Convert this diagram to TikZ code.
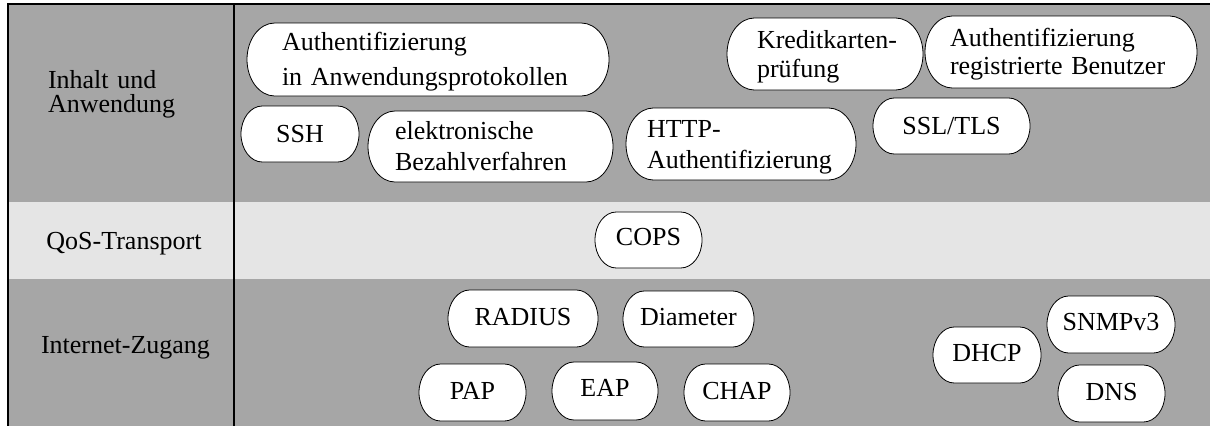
\documentclass[tikz,border=0pt]{standalone}
\usepackage{fontspec}
\setmainfont{Liberation Serif}
\usetikzlibrary{calc,backgrounds}
\definecolor{bandDark}{RGB}{166,166,166}
\definecolor{bandLight}{RGB}{229,229,229}
% stadium outline with elliptic ends around a named node
\newcommand{\capsuleoutline}[1]{%
  \draw[capline] let \p3=($(#1.north)-(#1.south)$) in
    ([xshift={0.38*\y3}]#1.north west) -- ([xshift={-0.38*\y3}]#1.north east)
    arc[start angle=90, end angle=-90, x radius={0.38*\y3}, y radius={0.5*\y3}]
    -- ([xshift={0.38*\y3}]#1.south west)
    arc[start angle=270, end angle=90, x radius={0.38*\y3}, y radius={0.5*\y3}]
    -- cycle;}
\begin{document}
\begin{tikzpicture}[x=1pt,y=-1pt,
  every node/.style={inner sep=0pt, outer sep=0pt},
  frameline/.style={line width=2pt, black},
  capline/.style={draw=black, line width=0.8pt, fill=white},
  rowlabel/.style={font=\fontsize{26}{24}\selectfont, text height=17pt, text depth=0pt},
  capsule/.style={text height=17pt, text depth=4pt, font=\fontsize{26}{26}\selectfont,
    execute at begin node={\hyphenpenalty=10000\exhyphenpenalty=10000}},
  twoline/.style 2 args={text width=#1pt, align=left, text depth=#2pt,
    font=\fontsize{26}{#2}\selectfont},
  size/.style 2 args={minimum width=#1pt, minimum height=#2pt}
]
\useasboundingbox (0,0) rectangle (1210,426);

\begin{pgfonlayer}{background}
  % layer bands
  \fill[bandDark]  (8,4)   rectangle (1210,202);
  \fill[bandLight] (8,202) rectangle (1210,279);
  \fill[bandDark]  (8,279) rectangle (1210,426);
  % frame and column divider
  \draw[frameline] (7,4) -- (1210,4);
  \draw[frameline] (8,3) -- (8,426);
  \draw[frameline] (234,3) -- (234,426);
\end{pgfonlayer}

% layer names
\node[rowlabel, anchor=west, text width=170pt, align=left, text depth=24pt] (lblApp) at (48,91.5) {Inhalt und\\Anwendung};
\node[rowlabel] (lblQos) at (124,240.5) {QoS-Transport};
\node[rowlabel] (lblNet) at (125.5,345) {Internet-Zugang};

% application layer
\node[capsule, size={362}{73}, twoline={292}{35}] (authApp) at (428,59.5) {Authentifizierung\\in Anwendungsprotokollen};
\node[capsule, size={196}{72}, twoline={136}{29}] (kredit) at (825,54) {Kreditkarten-\\prüfung};
\node[capsule, size={272}{72}, twoline={222}{28}] (authReg) at (1061,52) {Authentifizierung\\registrierte Benutzer};
\node[capsule, size={118}{56}, text depth=0pt] (ssh) at (300,134) {SSH};
\node[capsule, size={245}{71}, twoline={191}{31}] (epay) at (490.5,146.5) {elektronische\\Bezahlverfahren};
\node[capsule, size={230}{72}, twoline={188}{31}] (httpAuth) at (741,144) {HTTP-\\Authentifizierung};
\node[capsule, size={157}{56}, text depth=0pt] (ssl) at (951.5,126) {SSL/TLS};

% QoS transport
\node[capsule, size={107}{56}, text depth=7pt] (cops) at (648.5,240) {COPS};

% internet access
\node[capsule, size={150}{57}] (radius) at (523,318.5) {RADIUS};
\node[capsule, size={131}{56}] (diameter) at (688.5,319) {Diameter};
\node[capsule, size={107}{57}] (pap) at (472.5,392.5) {PAP};
\node[capsule, size={106}{58}, text depth=7pt] (eap) at (605,391) {EAP};
\node[capsule, size={106}{57}] (chap) at (737,392.5) {CHAP};
\node[capsule, size={108}{56}] (dhcp) at (987,355) {DHCP};
\node[capsule, size={128}{57}, text depth=6pt] (snmp) at (1111,324.5) {SNMPv3};
\node[capsule, size={107}{57}] (dns) at (1111.5,393.5) {DNS};

\begin{pgfonlayer}{background}
  \foreach \cap in {authApp,kredit,authReg,ssh,epay,httpAuth,ssl,cops,
                    radius,diameter,pap,eap,chap,dhcp,snmp,dns}
    {\capsuleoutline{\cap}}
\end{pgfonlayer}
\end{tikzpicture}
\end{document}
